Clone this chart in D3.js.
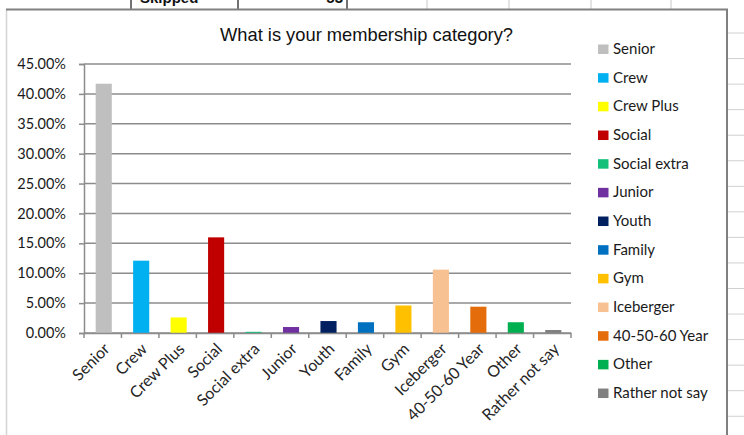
<!DOCTYPE html>
<html>
<head>
<meta charset="utf-8">
<script src="https://cdn.jsdelivr.net/npm/d3@7"></script>
<style>
  html, body { margin: 0; padding: 0; background: #fff; }
  svg { display: block; }
</style>
</head>
<body>
<svg id="chart" width="744" height="435"></svg>
<script>
// Membership category shares (percent of respondents)
const categories = ["Senior", "Crew", "Crew Plus", "Social", "Social extra", "Junior", "Youth",
  "Family", "Gym", "Iceberger", "40-50-60 Year", "Other", "Rather not say"];
const shares = [41.7, 12.1, 2.6, 16.0, 0.2, 1.0, 2.0, 1.8, 4.6, 10.6, 4.4, 1.8, 0.5];
const colors = ["#BFBFBF", "#00B0F0", "#FFFF00", "#C00000", "#12C07A", "#7030A0", "#002060",
  "#0070C0", "#FFC000", "#F8C192", "#E46C0A", "#00B050", "#808080"];
const yTicks = [0, 5, 10, 15, 20, 25, 30, 35, 40, 45];
const title = "What is your membership category?";

const svg = d3.select("#chart");

// ---- worksheet cells around the embedded chart ----
const sheet = svg.append("g");
const colLines = [131, 238, 347, 427, 509, 591, 671];
sheet.selectAll("line.col").data(colLines).join("line")
  .attr("x1", d => d).attr("x2", d => d).attr("y1", 0).attr("y2", 9)
  .attr("stroke", (d, i) => i < 3 ? "#444" : "#c8c8c8").attr("stroke-width", (d, i) => i < 3 ? 1.5 : 1);
sheet.append("text").attr("x", 140).attr("y", 3)
  .attr("font-family", "Liberation Sans, Arial, sans-serif").attr("font-weight", "bold")
  .attr("font-size", 15).attr("fill", "#111").text("Skipped");
sheet.append("text").attr("x", 343).attr("y", 3).attr("text-anchor", "end")
  .attr("font-family", "Liberation Sans, Arial, sans-serif").attr("font-weight", "bold")
  .attr("font-size", 15).attr("fill", "#111").text("53");
const rowLines = d3.range(16).map(i => 33 + i * 25.55);
sheet.selectAll("line.row").data(rowLines).join("line")
  .attr("x1", 728).attr("x2", 744).attr("y1", d => d).attr("y2", d => d)
  .attr("stroke", "#d0d0d0").attr("stroke-width", 1);

// ---- chart frame ----
svg.append("rect").attr("x", 6.5).attr("y", 9.5).attr("width", 720.5).attr("height", 440)
  .attr("fill", "#fff").attr("stroke", "none");
svg.append("line").attr("x1", 6.5).attr("x2", 6.5).attr("y1", 10).attr("y2", 435)
  .attr("stroke", "#d4d4d4").attr("stroke-width", 1.5);
svg.append("line").attr("x1", 6).attr("x2", 728).attr("y1", 9.5).attr("y2", 9.5)
  .attr("stroke", "#808080").attr("stroke-width", 2);
svg.append("line").attr("x1", 727).attr("x2", 727).attr("y1", 9).attr("y2", 435)
  .attr("stroke", "#808080").attr("stroke-width", 2);

// ---- title ----
svg.append("text").attr("x", 366.5).attr("y", 41).attr("text-anchor", "middle")
  .attr("font-family", "Liberation Sans, Arial, sans-serif").attr("font-size", 19)
  .attr("textLength", 293).attr("lengthAdjust", "spacingAndGlyphs")
  .attr("fill", "#111").text(title);

// ---- scales ----
const plot = { left: 84, right: 571, top: 64, bottom: 333 };
const x = d3.scaleBand().domain(categories).range([plot.left, plot.right]).padding(0);
const y = d3.scaleLinear().domain([0, 45]).range([plot.bottom, plot.top]);
const fmt = d => d3.format(".2f")(d) + "%";

// gridlines
svg.append("g").selectAll("line").data(yTicks).join("line")
  .attr("x1", plot.left).attr("x2", plot.right)
  .attr("y1", d => y(d)).attr("y2", d => y(d))
  .attr("stroke", "#8c8c8c").attr("stroke-width", 1.5);

// y axis
const yAxis = svg.append("g").attr("transform", `translate(${plot.left},0)`)
  .call(d3.axisLeft(y).tickValues(yTicks).tickFormat(fmt).tickSize(5).tickPadding(13));
yAxis.select(".domain").attr("stroke", "#8c8c8c").attr("stroke-width", 1.5);
yAxis.selectAll(".tick line").attr("stroke", "#8c8c8c").attr("stroke-width", 1.5);
yAxis.selectAll("text").attr("font-family", "Lato, sans-serif").attr("font-size", 14.5)
  .attr("fill", "#1a1a1a");

// bars
const bw = x.bandwidth() * 0.43;
svg.append("g").selectAll("rect").data(categories).join("rect")
  .attr("x", d => x(d) + (x.bandwidth() - bw) / 2 + 1)
  .attr("width", bw)
  .attr("y", (d, i) => y(shares[i]))
  .attr("height", (d, i) => y(0) - y(shares[i]))
  .attr("fill", (d, i) => colors[i]);

// x axis
const xAxis = svg.append("g").attr("transform", `translate(0,${plot.bottom})`)
  .call(d3.axisBottom(x).tickSize(0).tickPadding(0));
xAxis.select(".domain").attr("stroke", "#8c8c8c").attr("stroke-width", 1.5);
xAxis.selectAll(".tick text")
  .attr("font-family", "Lato, sans-serif").attr("font-size", 16).attr("fill", "#262626")
  .attr("text-anchor", "end").attr("dy", null)
  .attr("transform", "translate(8,17) rotate(-45)");
// category boundary tick marks
const bounds = categories.map(c => x(c)).concat([plot.right]);
svg.append("g").selectAll("line").data(bounds).join("line")
  .attr("x1", d => d).attr("x2", d => d).attr("y1", plot.bottom).attr("y2", plot.bottom + 5)
  .attr("stroke", "#8c8c8c").attr("stroke-width", 1.5);

// ---- legend ----
const legend = svg.append("g").selectAll("g").data(categories).join("g")
  .attr("transform", (d, i) => `translate(598,${54 + i * 28.67})`);
legend.append("rect").attr("x", 0).attr("y", -9.5).attr("width", 10.5).attr("height", 9.5)
  .attr("fill", (d, i) => colors[i]);
legend.append("text").attr("x", 15).attr("y", 0)
  .attr("font-family", "Lato, sans-serif").attr("font-size", 15).attr("fill", "#1a1a1a")
  .text(d => d);
</script>
</body>
</html>
